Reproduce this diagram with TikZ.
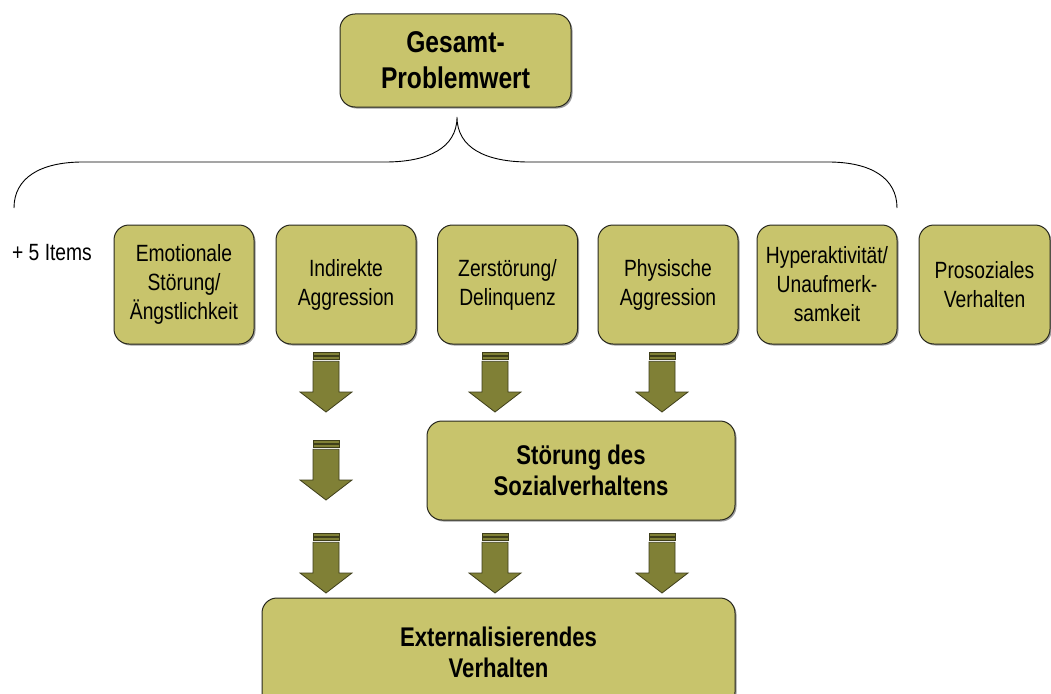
\documentclass[tikz,border=0pt]{standalone}
\usepackage{fontspec}
\setmainfont{Liberation Sans}[FakeStretch=0.82]
\usetikzlibrary{shadows}

\definecolor{boxfill}{RGB}{200,196,108}
\definecolor{boxline}{RGB}{40,40,30}
\definecolor{arrowfill}{RGB}{128,128,54}
\definecolor{arrowline}{RGB}{62,62,26}

\tikzset{
  box/.style={draw=boxline, line width=1pt, fill=boxfill, rounded corners=15pt,
    align=center, inner sep=0pt,
    drop shadow={shadow xshift=1.5pt, shadow yshift=-1.5pt, opacity=0.55, fill=black!70}},
  itembox/.style={box, minimum width=140pt, minimum height=119pt,
    font=\fontsize{23.5}{29}\selectfont},
  headbox/.style={box, font=\fontsize{27}{31}\selectfont\bfseries},
  plaintext/.style={inner sep=0pt, font=\fontsize{23.5}{29}\selectfont},
  bracket/.style={draw=black, line width=0.9pt},
  blockarrow/.pic={
    \filldraw[fill=arrowfill, draw=arrowline, line width=0.7pt]
      (-13,0) rectangle (13,3);
    \filldraw[fill=arrowfill, draw=arrowline, line width=0.7pt]
      (-13,4.5) rectangle (13,7.8);
    \filldraw[fill=arrowfill, draw=arrowline, line width=0.8pt, line join=miter]
      (-13,9.3) -- (13,9.3) -- (13,40) -- (26,40) -- (0,60) -- (-26,40) -- (-13,40) -- cycle;
  }
}

\begin{document}
\begin{tikzpicture}[x=1pt, y=-1pt]
\useasboundingbox (0,0) rectangle (1051,693);
\begin{scope}
\clip (0,0) rectangle (1051,693);

% overall score
\node[box, minimum width=231pt, minimum height=93pt,
      font=\fontsize{30}{36}\selectfont\bfseries] (total) at (455.5,60.5) {Gesamt-\\Problemwert};

% brace gathering the five problem scales
\coordinate (cusp) at (457,117);
\coordinate (bl) at (14,208);
\coordinate (br) at (897,208);
\draw[bracket] (bl) .. controls (14,178) and (40,162) .. (83,162) -- (385,162)
  .. controls (428,162) and (457,148) .. (cusp)
  .. controls (457,148) and (486,162) .. (529,162) -- (828,162)
  .. controls (871,162) and (897,178) .. (br);

\node[plaintext] (items) at (52,253) {+ 5 Items};

% subscales
\node[itembox] (emo) at (184,284.5) {Emotionale\\Störung/\\Ängstlichkeit};
\node[itembox] (ind) at (346,284.5) {Indirekte\\Aggression};
\node[itembox] (zer) at (507.5,284.5) {Zerstörung/\\Delinquenz};
\node[itembox] (phy) at (668,284.5) {Physische\\Aggression};
\node[itembox] (hyp) at (827,284.5) {Hyperaktivität/\\Unaufmerk-\\samkeit};
\node[itembox, minimum width=131pt] (pro) at (984.5,284.5) {Prosoziales\\Verhalten};

% composite scales
\node[headbox, minimum width=308pt, minimum height=99pt] (sdv) at (581,470.5)
  {Störung des\\Sozialverhaltens};
\node[headbox, minimum width=473pt, minimum height=109pt] (ext) at (498.5,652.5)
  {Externalisierendes\\Verhalten};

% block arrows
\pic (a1) at (326,352) {blockarrow};
\pic (a2) at (495,352) {blockarrow};
\pic (a3) at (662,352) {blockarrow};
\pic (a4) at (326,440) {blockarrow};
\pic (a5) at (326,533) {blockarrow};
\pic (a6) at (495,533) {blockarrow};
\pic (a7) at (662,533) {blockarrow};
\end{scope}
\end{tikzpicture}
\end{document}
